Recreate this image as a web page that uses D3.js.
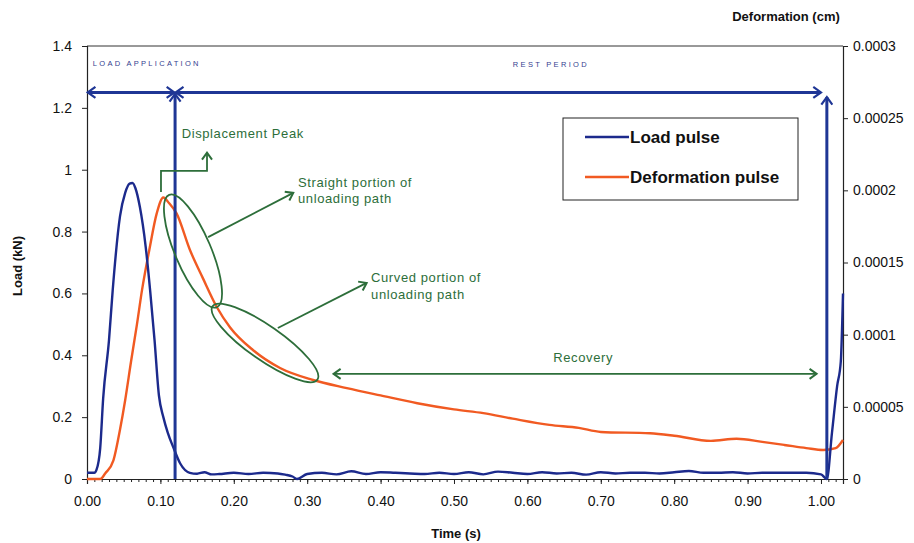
<!DOCTYPE html>
<html lang="en">
<head>
<meta charset="UTF-8" />
<title>Load and deformation pulse</title>
<script src="https://d3js.org/d3.v7.min.js"></script>
<style>
  body { margin: 0; background: #fff; }
  svg { display: block; font-family: "Liberation Sans", Arial, sans-serif; }
  .tick-label { font-size: 14px; fill: #111; }
  .axis-title { font-size: 13px; font-weight: bold; fill: #111; }
  .note-green { font-size: 13px; fill: #2d6e3a; letter-spacing: 0.6px; }
  .note-blue { font-size: 7.5px; fill: #34408f; letter-spacing: 2.3px; }
  .legend-text { font-size: 17px; font-weight: bold; fill: #111; }
</style>
</head>
<body>
<svg id="chart" width="914" height="543"></svg>
<script>
// --- data (time in s, load in kN, deformation in cm) ---
const loadTime = [0, 0.01, 0.013, 0.018, 0.022, 0.03, 0.035, 0.045, 0.052, 0.058, 0.062, 0.066, 0.072, 0.08, 0.086,
  0.092, 0.098, 0.104, 0.11, 0.118, 0.127, 0.14, 0.15, 0.16, 0.17, 0.18, 0.2, 0.22, 0.24, 0.26, 0.27, 0.28, 0.286,
  0.3, 0.32, 0.34, 0.36, 0.38, 0.4, 0.42, 0.44, 0.46, 0.48, 0.5, 0.52, 0.54, 0.56, 0.58, 0.6, 0.62, 0.64, 0.66,
  0.68, 0.7, 0.72, 0.74, 0.76, 0.78, 0.8, 0.82, 0.84, 0.86, 0.88, 0.9, 0.92, 0.94, 0.96, 0.98, 1.0, 1.008, 1.015,
  1.022, 1.027, 1.03];
const loadKN = [0.02, 0.02, 0.03, 0.10, 0.26, 0.45, 0.61, 0.85, 0.925, 0.955, 0.957, 0.94, 0.88, 0.75, 0.61,
  0.45, 0.27, 0.2, 0.15, 0.1, 0.05, 0.02, 0.017, 0.022, 0.015, 0.016, 0.02, 0.016, 0.02, 0.018, 0.014, 0.008, 0.0,
  0.016, 0.02, 0.015, 0.025, 0.016, 0.022, 0.02, 0.018, 0.016, 0.02, 0.016, 0.022, 0.015, 0.024, 0.02, 0.016, 0.022,
  0.018, 0.02, 0.014, 0.022, 0.018, 0.02, 0.02, 0.018, 0.022, 0.026, 0.02, 0.02, 0.022, 0.018, 0.02, 0.02, 0.02,
  0.02, 0.015, 0.0, 0.15, 0.3, 0.38, 0.6];

const defTime = [0, 0.018, 0.025, 0.036, 0.045, 0.052, 0.06, 0.068, 0.075, 0.085, 0.095, 0.104, 0.112, 0.122,
  0.14, 0.158, 0.177, 0.195, 0.226, 0.263, 0.308, 0.354, 0.4, 0.45, 0.5, 0.54, 0.58, 0.63, 0.67, 0.7, 0.767, 0.8,
  0.85, 0.885, 0.92, 0.95, 0.98, 1.003, 1.02, 1.03];
const defCm = [0, 0, 0.000004, 0.0000129, 0.0000343, 0.0000546, 0.0000814, 0.000107, 0.000131, 0.000159, 0.000184,
  0.000195, 0.000191, 0.000184, 0.000159, 0.000139, 0.000119, 0.000105, 0.0000894, 0.0000769, 0.0000686, 0.000063,
  0.0000579, 0.0000525, 0.0000482, 0.0000456, 0.0000418, 0.0000375, 0.0000354, 0.0000326, 0.0000317, 0.00003,
  0.0000264, 0.0000279, 0.0000257, 0.0000236, 0.0000214, 0.0000201, 0.0000214, 0.000027];

const xTicks = [0, 0.1, 0.2, 0.3, 0.4, 0.5, 0.6, 0.7, 0.8, 0.9, 1.0];
const yLeftTicks = [0, 0.2, 0.4, 0.6, 0.8, 1, 1.2, 1.4];
const yRightTicks = [0, 0.00005, 0.0001, 0.00015, 0.0002, 0.00025, 0.0003];
const seriesNames = ["Load pulse", "Deformation pulse"];

// --- config ---
const svg = d3.select("#chart");
const plotL = 87, plotR = 843, plotT = 46, plotB = 479;
const blue = "#1c2a8c", orange = "#f15a22", green = "#2d6e3a", annBlue = "#1f3695";

const x = d3.scaleLinear().domain([0, 1.03]).range([plotL, plotR]);
const yL = d3.scaleLinear().domain([0, 1.4]).range([plotB, plotT]);
const yR = d3.scaleLinear().domain([0, 0.0003]).range([plotB, plotT]);

const defs = svg.append("defs");
function chevron(id, color, size) {
  defs.append("marker")
    .attr("id", id)
    .attr("viewBox", "-1 -6 10 12")
    .attr("refX", 7).attr("refY", 0)
    .attr("markerWidth", size).attr("markerHeight", size * 1.2)
    .attr("markerUnits", "userSpaceOnUse")
    .attr("orient", "auto-start-reverse")
    .append("path")
    .attr("d", "M0,-5 L7,0 L0,5")
    .attr("fill", "none")
    .attr("stroke", color)
    .attr("stroke-width", 2);
}
chevron("arrBlue", annBlue, 11);
chevron("arrGreen", green, 10);

// plot frame (top border)
svg.append("line")
  .attr("x1", plotL).attr("x2", plotR).attr("y1", plotT).attr("y2", plotT)
  .attr("stroke", "#333").attr("stroke-width", 1);

// --- axes ---
const axL = svg.append("g").attr("transform", `translate(${plotL},0)`)
  .call(d3.axisLeft(yL).tickValues(yLeftTicks).tickSize(5).tickFormat(d3.format("")));
const axR = svg.append("g").attr("transform", `translate(${plotR},0)`)
  .call(d3.axisRight(yR).tickValues(yRightTicks).tickSize(5).tickFormat(d => d === 0 ? "0" : String(+d.toFixed(5))));
const axB = svg.append("g").attr("transform", `translate(0,${plotB})`)
  .call(d3.axisBottom(x).tickValues(xTicks).tickSize(5).tickPadding(12).tickFormat(d3.format(".2f")));
const minor = d3.range(0, 103).map(i => i / 100);
svg.append("g").attr("transform", `translate(0,${plotB})`)
  .call(d3.axisBottom(x).tickValues(minor).tickSize(3).tickFormat(""))
  .call(g => g.select(".domain").remove());

[axL, axR, axB].forEach(a => {
  a.select(".domain").attr("stroke", "#222").attr("stroke-width", 1.2);
  a.selectAll(".tick text").attr("class", "tick-label").attr("font-family", null).attr("font-size", null);
});
axL.selectAll(".tick text").attr("x", -15);
axR.selectAll(".tick text").attr("x", 10);
svg.selectAll("g .tick line").attr("stroke", "#222");

// axis titles
svg.append("text").attr("class", "axis-title")
  .attr("transform", "translate(22,266) rotate(-90)")
  .attr("text-anchor", "middle").text("Load (kN)");
svg.append("text").attr("class", "axis-title")
  .attr("x", 456).attr("y", 538)
  .attr("text-anchor", "middle").text("Time (s)");
svg.append("text").attr("class", "axis-title")
  .attr("x", 786).attr("y", 21)
  .attr("text-anchor", "middle").text("Deformation (cm)");

// --- series ---
const loadData = loadTime.map((t, i) => [t, loadKN[i]]);
const defData = defTime.map((t, i) => [t, defCm[i]]);

svg.append("path")
  .datum(defData)
  .attr("fill", "none").attr("stroke", orange).attr("stroke-width", 2.4)
  .attr("d", d3.line().x(d => x(d[0])).y(d => yR(d[1])).curve(d3.curveMonotoneX));

svg.append("path")
  .datum(loadData)
  .attr("fill", "none").attr("stroke", blue).attr("stroke-width", 2.4)
  .attr("d", d3.line().x(d => x(d[0])).y(d => yL(d[1])).curve(d3.curveMonotoneX));

// --- blue period annotations ---
const ann = svg.append("g").attr("stroke", annBlue).attr("stroke-width", 3).attr("fill", "none");
ann.append("line")
  .attr("x1", x(0.001)).attr("x2", x(0.119)).attr("y1", yL(1.25)).attr("y2", yL(1.25))
  .attr("marker-start", "url(#arrBlue)").attr("marker-end", "url(#arrBlue)");
ann.append("line")
  .attr("x1", x(0.121)).attr("x2", x(1.0)).attr("y1", yL(1.25)).attr("y2", yL(1.25))
  .attr("marker-start", "url(#arrBlue)").attr("marker-end", "url(#arrBlue)");
ann.append("line")
  .attr("x1", x(0.12)).attr("x2", x(0.12)).attr("y1", yL(0)).attr("y2", yL(1.245))
  .attr("marker-end", "url(#arrBlue)");
ann.append("line")
  .attr("x1", x(1.008)).attr("x2", x(1.008)).attr("y1", yL(0)).attr("y2", yL(1.235))
  .attr("marker-end", "url(#arrBlue)");

svg.append("text").attr("class", "note-blue")
  .attr("x", x(0.008)).attr("y", yL(1.335)).text("LOAD APPLICATION");
svg.append("text").attr("class", "note-blue").attr("text-anchor", "middle")
  .attr("x", x(0.632)).attr("y", yL(1.332)).text("REST PERIOD");

// --- green annotations ---
const gn = svg.append("g").attr("stroke", green).attr("stroke-width", 1.8).attr("fill", "none");
gn.append("path")
  .attr("d", d3.line()([[x(0.1008), yL(0.928)], [x(0.1008), yL(0.996)], [x(0.1635), yL(0.996)], [x(0.1635), yL(1.055)]]))
  .attr("marker-end", "url(#arrGreen)");
gn.append("ellipse")
  .attr("transform", `translate(${x(0.1444)},${yL(0.737)}) rotate(67)`)
  .attr("rx", 61).attr("ry", 18);
gn.append("ellipse")
  .attr("transform", `translate(${x(0.2425)},${yL(0.44)}) rotate(35)`)
  .attr("rx", 64).attr("ry", 17);
gn.append("line")
  .attr("x1", x(0.165)).attr("y1", yL(0.782)).attr("x2", x(0.281)).attr("y2", yL(0.925))
  .attr("marker-end", "url(#arrGreen)");
gn.append("line")
  .attr("x1", x(0.26)).attr("y1", yL(0.488)).attr("x2", x(0.381)).attr("y2", yL(0.634))
  .attr("marker-end", "url(#arrGreen)");
gn.append("line")
  .attr("x1", x(0.336)).attr("y1", yL(0.34)).attr("x2", x(0.994)).attr("y2", yL(0.34))
  .attr("marker-start", "url(#arrGreen)").attr("marker-end", "url(#arrGreen)");

svg.append("text").attr("class", "note-green")
  .attr("x", x(0.129)).attr("y", yL(1.103)).text("Displacement Peak");
const t1 = svg.append("text").attr("class", "note-green").attr("x", x(0.2875)).attr("y", yL(0.944));
t1.append("tspan").text("Straight portion of");
t1.append("tspan").attr("x", x(0.2875)).attr("dy", 16).text("unloading path");
const t2 = svg.append("text").attr("class", "note-green").attr("x", x(0.387)).attr("y", yL(0.637));
t2.append("tspan").text("Curved portion of");
t2.append("tspan").attr("x", x(0.387)).attr("dy", 17).text("unloading path");
svg.append("text").attr("class", "note-green").attr("text-anchor", "middle")
  .attr("x", x(0.676)).attr("y", yL(0.378)).text("Recovery");

// --- legend ---
const lg = svg.append("g").attr("transform", "translate(563,118)");
lg.append("rect").attr("width", 235).attr("height", 82)
  .attr("fill", "#fff").attr("stroke", "#222").attr("stroke-width", 1);
const legendColors = [blue, orange];
seriesNames.forEach((name, i) => {
  const yy = 19 + i * 40;
  lg.append("line").attr("x1", 22).attr("x2", 66).attr("y1", yy).attr("y2", yy)
    .attr("stroke", legendColors[i]).attr("stroke-width", 2.4);
  lg.append("text").attr("class", "legend-text").attr("x", 67).attr("y", yy + 6).text(name);
});
</script>
</body>
</html>
